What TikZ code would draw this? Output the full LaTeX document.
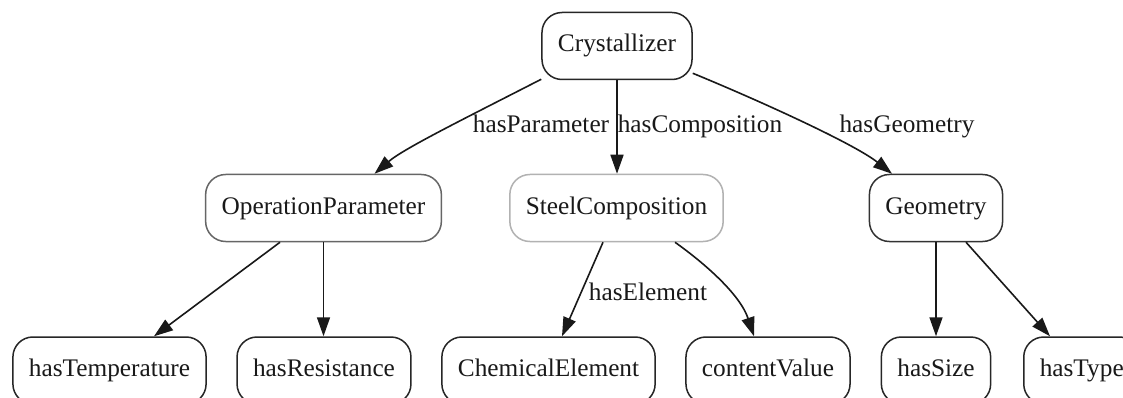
\documentclass[tikz,border=0pt]{standalone}
\usepackage{fontspec}
\setmainfont{Liberation Serif}
\usetikzlibrary{arrows.meta,calc}
\begin{document}
\begin{tikzpicture}[x=1pt,y=-1pt,
  box/.style={draw=#1, line width=1.5pt, rounded corners=20pt, minimum height=67pt,
    inner xsep=16pt, text height=18pt, text depth=6pt,
    font=\fontsize{25.3}{30}\selectfont, text=black!90},
  box/.default={black!85},
  edge/.style={line width=1.6pt, draw=black!90, -{Triangle[length=19pt,width=13pt]}},
  lbl/.style={anchor=base, inner sep=0pt, font=\fontsize{25.3}{30}\selectfont, text=black!90}]
\useasboundingbox (0,0) rectangle (1123,398);
\fill[white] (0,0) rectangle (1123,398);
\clip (0,0) rectangle (1123,398);

% classes
\node[box] (cr) at (617,46) {Crystallizer};
\node[box=black!60] (op) at (323.5,208) {OperationParameter};
\node[box=black!30] (sc) at (616.5,208) {SteelComposition};
\node[box=black!80] (ge) at (936,208) {Geometry};

% properties
\node[box] (ht) at (109.5,370.5) {hasTemperature};
\node[box] (hr) at (324,370.5) {hasResistance};
\node[box] (ce) at (548.5,370.5) {ChemicalElement};
\node[box] (cv) at (768,370.5) {contentValue};
\node[box] (hs) at (936,370.5) {hasSize};
\node[box,anchor=west] (hy) at (1023,370.5) {hasType};

% relations from the crystallizer
\draw[edge] ($(cr.south west)+(0,-1)$) .. controls ($(cr.south west)+(-80,40)$)
  and ($(op.north)+(80,-25)$) .. ($(op.north)+(51,0)$);
\draw[edge] (cr.south) -- (cr.south |- sc.north);
\draw[edge] ($(cr.south east)+(0,-7)$) .. controls ($(cr.south east)+(68,21)$)
  and ($(ge.north)+(-82,-30)$) .. ($(ge.north)+(-44,0)$);

% second level
\draw[edge] ($(op.south)+(-43.5,0)$) -- ($(ht.north)+(44.5,0)$);
\draw[edge] (op.south) -- (op.south |- hr.north);
\draw[edge] ($(sc.south)+(-13.5,0)$) -- ($(ce.north)+(13.5,0)$);
\draw[edge] ($(sc.south)+(58.5,0)$) .. controls ($(sc.south)+(88,21)$)
  and ($(cv.north)+(-28,-42)$) .. ($(cv.north)+(-14,0)$);
\draw[edge] (ge.south) -- (ge.south |- hs.north);
\draw[edge] ($(ge.south)+(30,0)$) -- ($(hy.north west)+(27,0)$);

% edge labels
\node[lbl] (lp) at (541,133) {hasParameter};
\node[lbl] (lc) at (700,133) {hasComposition};
\node[lbl] (lg) at (907,133) {hasGeometry};
\node[lbl] (le) at (648,300) {hasElement};
\end{tikzpicture}
\end{document}
